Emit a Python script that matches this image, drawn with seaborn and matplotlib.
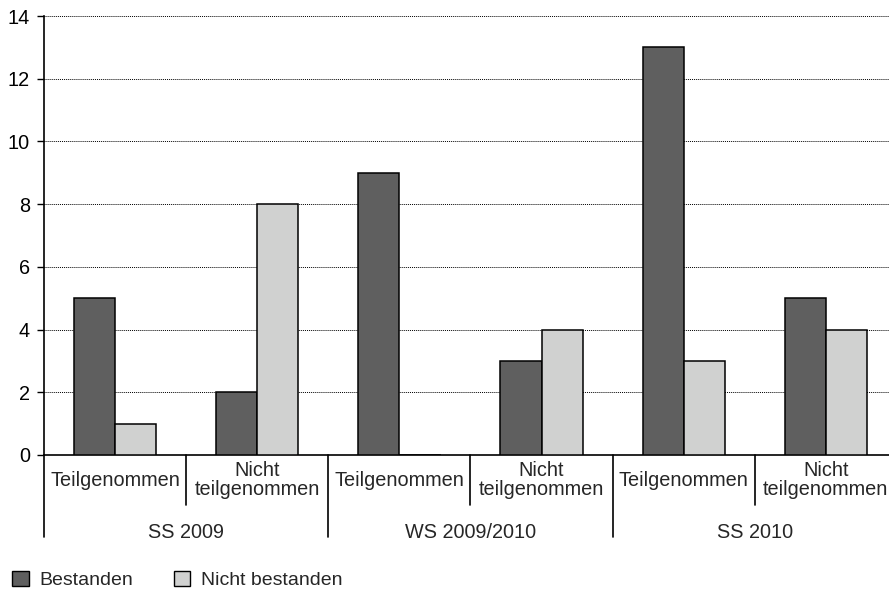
import matplotlib
matplotlib.use("Agg")
import matplotlib.pyplot as plt
import seaborn as sns
import pandas as pd
from matplotlib.patches import Patch

semesters = ["SS 2009", "WS 2009/2010", "SS 2010"]
subgroups = ["Teilgenommen", "Nicht\nteilgenommen"]
series_names = ["Bestanden", "Nicht bestanden"]
bestanden = [5, 2, 9, 3, 13, 5]
nicht_bestanden = [1, 8, 0, 4, 3, 4]
yticks = [0, 2, 4, 6, 8, 10, 12, 14]

cats = [f"{s}|{g}" for s in semesters for g in subgroups]
df = pd.DataFrame({
    "cat": cats * 2,
    "serie": [series_names[0]] * 6 + [series_names[1]] * 6,
    "wert": bestanden + nicht_bestanden,
})

sns.set_style("white")
plt.rcParams["font.family"] = ["Liberation Sans", "DejaVu Sans"]
FS = 14.3

W, H = 889, 590
fig = plt.figure(figsize=(W / 100, H / 100), dpi=100)
ax = fig.add_axes([44 / W, 135 / H, (897 - 44) / W, 439 / H])

colors = {"Bestanden": "#5f5f5f", "Nicht bestanden": "#d0d1d0"}
sns.barplot(data=df, x="cat", y="wert", hue="serie", order=cats,
            hue_order=series_names, palette=colors, width=0.58,
            edgecolor="black", linewidth=1.1, saturation=1, ax=ax,
            legend=False, zorder=3)

ax.set_xlim(-0.5, 5.5)
ax.set_ylim(0, 14)
ax.set_yticks(yticks)
ax.set_yticklabels([str(v) for v in yticks], fontsize=FS)
ax.set_xticks([])
ax.set_xlabel("")
ax.set_ylabel("")
for y in yticks[1:]:
    ax.axhline(y, color="black", lw=0.7, ls=(0, (1, 1)), zorder=1)
for s in ["top", "right"]:
    ax.spines[s].set_visible(False)
ax.spines["left"].set_color("black")
ax.spines["bottom"].set_color("black")
ax.spines["left"].set_linewidth(1.2)
ax.spines["bottom"].set_linewidth(1.2)
ax.tick_params(axis="y", direction="out", length=5, width=1.0, pad=5,
               colors="black", left=True)

tr = ax.get_xaxis_transform()
axh = 439.0
def fy(px_below):
    return -px_below / axh

# separators
for x in [-0.5, 1.5, 3.5]:
    ax.plot([x, x], [0, fy(82)], color="black", lw=1.2, transform=tr, clip_on=False)
for x in [0.5, 2.5, 4.5]:
    ax.plot([x, x], [0, fy(50)], color="black", lw=1.2, transform=tr, clip_on=False)

# category labels
for i, c in enumerate(cats):
    sub = c.split("|")[1]
    ax.text(i, fy(25), sub, transform=tr, ha="center", va="center",
            fontsize=FS, linespacing=1.0, clip_on=False)
for j, s in enumerate(semesters):
    ax.text(2 * j + 0.5, fy(77), s, transform=tr, ha="center", va="center",
            fontsize=FS, clip_on=False)

handles = [Patch(facecolor=colors[n], edgecolor="black", lw=1.0, label=n)
           for n in series_names]
fig.legend(handles=handles, loc="center left", bbox_to_anchor=(12 / W, 10 / H),
           ncol=2, frameon=False, fontsize=14, handlelength=0.85,
           handleheight=0.85, handletextpad=0.55, columnspacing=2.1,
           borderpad=0, borderaxespad=0)

fig.savefig("out.png", dpi=100)
